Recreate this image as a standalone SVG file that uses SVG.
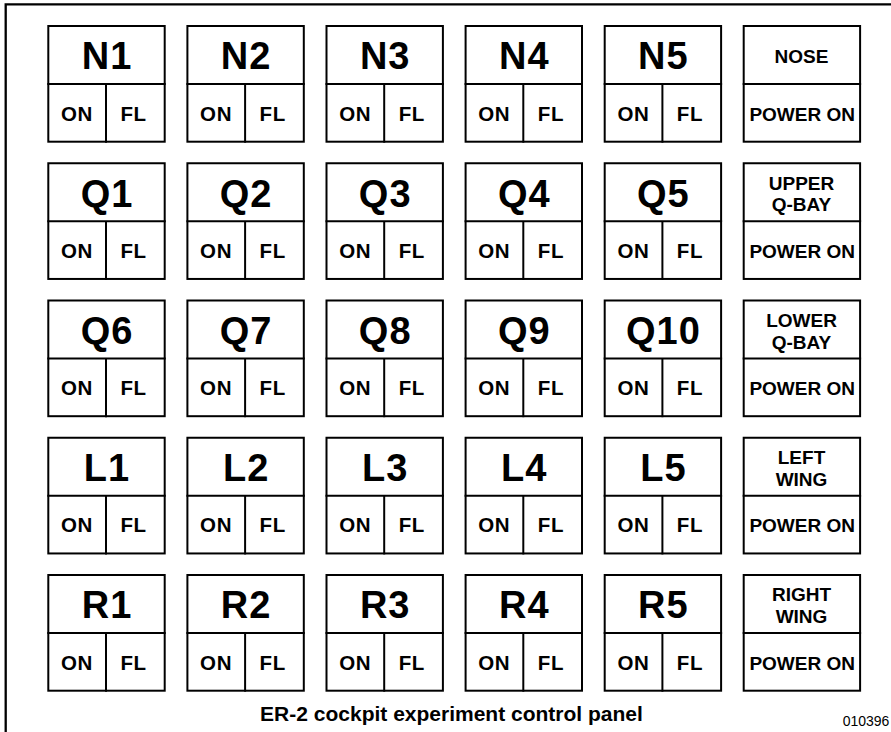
<svg xmlns="http://www.w3.org/2000/svg" width="891" height="732" viewBox="0 0 891 732">
<style>
.box{fill:#fff;stroke:#000;stroke-width:2}
.ln{stroke:#000;stroke-width:2}
.frame{stroke:#000;stroke-width:2.3;fill:none}
text{font-family:"Liberation Sans",Arial,sans-serif;font-weight:bold;fill:#000;text-anchor:middle}
.big{font-size:38px;letter-spacing:1px}
.sm{font-size:19px}
.sw{font-size:20.5px;letter-spacing:0.6px}
.cap{font-size:21px}
.num{font-size:14px;font-weight:normal}
</style>
<rect width="891" height="732" fill="#fff"/>
<g id="frame"><path class="frame" d="M5.7,732 V4.3 H891"/></g>
<defs>
<g id="sw">
<rect class="box" x="1" y="1" width="116.4" height="115.7"/>
<line class="ln" x1="0" y1="59" x2="118.4" y2="59"/>
<line class="ln" x1="58.7" y1="59" x2="58.7" y2="117.7"/>
<text class="sw" x="29.7" y="95.7">ON</text>
<text class="sw" x="86.3" y="95.7">FL</text>
</g>
<g id="pw">
<rect class="box" x="1" y="1" width="116.4" height="115.7"/>
<line class="ln" x1="0" y1="59" x2="118.4" y2="59"/>
<text class="sm" x="59.5" y="95.7">POWER ON</text>
</g>
</defs>
<g id="connectors"/>
<g id="N1" transform="translate(47.3,25)"><use href="#sw"/><text class="big" x="59.7" y="44.3">N1</text></g>
<g id="N2" transform="translate(186.4,25)"><use href="#sw"/><text class="big" x="59.7" y="44.3">N2</text></g>
<g id="N3" transform="translate(325.5,25)"><use href="#sw"/><text class="big" x="59.7" y="44.3">N3</text></g>
<g id="N4" transform="translate(464.6,25)"><use href="#sw"/><text class="big" x="59.7" y="44.3">N4</text></g>
<g id="N5" transform="translate(603.7,25)"><use href="#sw"/><text class="big" x="59.7" y="44.3">N5</text></g>
<g id="NOSE" transform="translate(742.7,25)"><use href="#pw"/><text class="sm" x="58.8" y="38.3">NOSE</text></g>

<g id="Q1" transform="translate(47.3,162.25)"><use href="#sw"/><text class="big" x="59.7" y="44.3">Q1</text></g>
<g id="Q2" transform="translate(186.4,162.25)"><use href="#sw"/><text class="big" x="59.7" y="44.3">Q2</text></g>
<g id="Q3" transform="translate(325.5,162.25)"><use href="#sw"/><text class="big" x="59.7" y="44.3">Q3</text></g>
<g id="Q4" transform="translate(464.6,162.25)"><use href="#sw"/><text class="big" x="59.7" y="44.3">Q4</text></g>
<g id="Q5" transform="translate(603.7,162.25)"><use href="#sw"/><text class="big" x="59.7" y="44.3">Q5</text></g>
<g id="UPPER" transform="translate(742.7,162.25)"><use href="#pw"/><text class="sm" x="58.8" y="27.3">UPPER</text><text class="sm" x="58.8" y="49">Q-BAY</text></g>

<g id="Q6" transform="translate(47.3,299.5)"><use href="#sw"/><text class="big" x="59.7" y="44.3">Q6</text></g>
<g id="Q7" transform="translate(186.4,299.5)"><use href="#sw"/><text class="big" x="59.7" y="44.3">Q7</text></g>
<g id="Q8" transform="translate(325.5,299.5)"><use href="#sw"/><text class="big" x="59.7" y="44.3">Q8</text></g>
<g id="Q9" transform="translate(464.6,299.5)"><use href="#sw"/><text class="big" x="59.7" y="44.3">Q9</text></g>
<g id="Q10" transform="translate(603.7,299.5)"><use href="#sw"/><text class="big" x="59.7" y="44.3">Q10</text></g>
<g id="LOWER" transform="translate(742.7,299.5)"><use href="#pw"/><text class="sm" x="58.8" y="27.3">LOWER</text><text class="sm" x="58.8" y="49">Q-BAY</text></g>

<g id="L1" transform="translate(47.3,436.75)"><use href="#sw"/><text class="big" x="59.7" y="44.3">L1</text></g>
<g id="L2" transform="translate(186.4,436.75)"><use href="#sw"/><text class="big" x="59.7" y="44.3">L2</text></g>
<g id="L3" transform="translate(325.5,436.75)"><use href="#sw"/><text class="big" x="59.7" y="44.3">L3</text></g>
<g id="L4" transform="translate(464.6,436.75)"><use href="#sw"/><text class="big" x="59.7" y="44.3">L4</text></g>
<g id="L5" transform="translate(603.7,436.75)"><use href="#sw"/><text class="big" x="59.7" y="44.3">L5</text></g>
<g id="LEFT" transform="translate(742.7,436.75)"><use href="#pw"/><text class="sm" x="58.8" y="27.3">LEFT</text><text class="sm" x="58.8" y="49">WING</text></g>

<g id="R1" transform="translate(47.3,574)"><use href="#sw"/><text class="big" x="59.7" y="44.3">R1</text></g>
<g id="R2" transform="translate(186.4,574)"><use href="#sw"/><text class="big" x="59.7" y="44.3">R2</text></g>
<g id="R3" transform="translate(325.5,574)"><use href="#sw"/><text class="big" x="59.7" y="44.3">R3</text></g>
<g id="R4" transform="translate(464.6,574)"><use href="#sw"/><text class="big" x="59.7" y="44.3">R4</text></g>
<g id="R5" transform="translate(603.7,574)"><use href="#sw"/><text class="big" x="59.7" y="44.3">R5</text></g>
<g id="RIGHT" transform="translate(742.7,574)"><use href="#pw"/><text class="sm" x="58.8" y="27.3">RIGHT</text><text class="sm" x="58.8" y="49">WING</text></g>

<text class="cap" x="451.5" y="720.7">ER-2 cockpit experiment control panel</text>
<text class="num" x="866" y="726">010396</text>
</svg>
